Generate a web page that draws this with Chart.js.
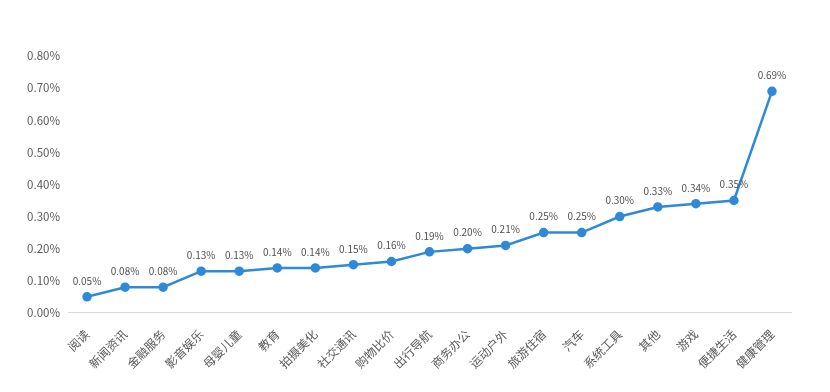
<!DOCTYPE html>
<html>
<head>
<meta charset="utf-8">
<script src="https://cdn.jsdelivr.net/npm/chart.js@4/dist/chart.umd.min.js"></script>
<style>
  html, body { margin: 0; padding: 0; background: #ffffff; }
</style>
</head>
<body>
<canvas id="c" width="830" height="392" style="width:830px;height:392px;display:block"></canvas>
<script>
const categories = ["阅读", "新闻资讯", "金融服务", "影音娱乐", "母婴儿童", "教育", "拍摄美化", "社交通讯", "购物比价", "出行导航", "商务办公", "运动户外", "旅游住宿", "汽车", "系统工具", "其他", "游戏", "便捷生活", "健康管理"];
const values = [0.05, 0.08, 0.08, 0.13, 0.13, 0.14, 0.14, 0.15, 0.16, 0.19, 0.20, 0.21, 0.25, 0.25, 0.30, 0.33, 0.34, 0.35, 0.69];
const yTicks = [0, 0.1, 0.2, 0.3, 0.4, 0.5, 0.6, 0.7, 0.8];

const FONT = '"Noto Sans CJK SC", "Noto Sans", sans-serif';

const dataLabels = {
  id: 'dataLabels',
  afterDatasetsDraw(chart) {
    const ctx = chart.ctx;
    const meta = chart.getDatasetMeta(0);
    ctx.save();
    ctx.font = '10px ' + FONT;
    ctx.fillStyle = '#505050';
    ctx.textAlign = 'center';
    ctx.textBaseline = 'middle';
    meta.data.forEach((pt, i) => {
      ctx.fillText(values[i].toFixed(2) + '%', pt.x, pt.y - 16);
    });
    ctx.restore();
  }
};

new Chart(document.getElementById('c'), {
  type: 'line',
  data: {
    labels: categories,
    datasets: [{
      data: values,
      borderColor: '#2E8AD8',
      backgroundColor: '#2E8AD8',
      borderWidth: 2.5,
      pointRadius: 3.5,
      pointBackgroundColor: '#2E8AD8',
      pointBorderColor: '#2E8AD8',
      tension: 0,
      fill: false
    }]
  },
  options: {
    responsive: false,
    animation: false,
    devicePixelRatio: 1,
    layout: { padding: { top: 56, right: 39, bottom: 15, left: 22 } },
    plugins: { legend: { display: false }, tooltip: { enabled: false } },
    scales: {
      x: {
        type: 'category',
        offset: true,
        grid: { display: false },
        border: { display: true, color: '#d9d9d9', width: 1 },
        afterFit(axis) { axis.paddingLeft = 0; axis.paddingRight = 0; },
        ticks: {
          color: '#595959',
          font: { family: FONT, size: 12 },
          maxRotation: 45,
          minRotation: 45,
          autoSkip: false,
          padding: 6
        }
      },
      y: {
        min: 0,
        max: 0.8,
        afterBuildTicks(axis) { axis.ticks = yTicks.map(v => ({ value: v })); },
        afterFit(axis) { axis.width = 46; },
        grid: { display: false, drawTicks: false },
        border: { display: false },
        ticks: {
          color: '#595959',
          font: { family: FONT, size: 11.5 },
          padding: 8,
          callback: v => Number(v).toFixed(2) + '%'
        }
      }
    }
  },
  plugins: [dataLabels]
});
</script>
</body>
</html>
